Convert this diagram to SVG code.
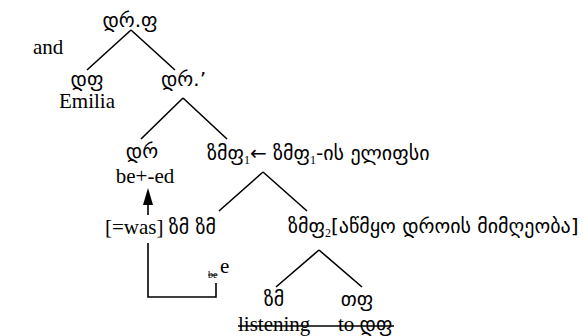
<svg xmlns="http://www.w3.org/2000/svg" width="583" height="336" viewBox="0 0 583 336">
<style>
.lat{font-family:"Liberation Serif","DejaVu Serif",serif;font-size:21px;fill:#000}
.geo{font-family:"DejaVu Sans","Noto Sans",sans-serif;font-size:20px;fill:#000}
.sub{font-family:"Liberation Serif",serif;font-size:12px}
.small{font-size:10px}
.e{stroke:#000;stroke-width:1.6;fill:none}
.mid{text-anchor:middle}
</style>
<rect width="583" height="336" fill="#fff"/>
<text class="lat" x="33" y="54">and</text>
<g id="n-root"><text class="geo mid" x="130" y="27">დრ.ფ</text></g>
<g id="n-df"><text class="geo mid" x="87" y="86">დფ</text><text class="lat mid" x="87" y="108">Emilia</text></g>
<g id="n-dr1"><text class="geo" x="161" y="86">დრ.’</text></g>
<g id="n-dr"><text class="geo mid" x="142" y="158">დრ</text><text class="lat mid" x="145" y="183">be+-ed</text></g>
<g id="n-zmf1"><text class="geo" x="207" y="160">ზმფ<tspan class="sub" dy="4">1</tspan><tspan dy="-4">← ზმფ</tspan><tspan class="sub" dy="4">1</tspan><tspan dy="-4">-ის ელიფსი</tspan></text></g>
<g id="n-zm"><text x="105" y="234"><tspan class="lat">[=was] </tspan><tspan class="geo">ზმ ზმ</tspan></text></g>
<g id="n-zmf2"><text class="geo" x="288" y="233">ზმფ<tspan class="sub" dy="4">2</tspan><tspan dy="-4">[აწმყო დროის მიმღეობა]</tspan></text></g>
<g id="n-trace"><text class="lat small" x="208" y="278" text-decoration="line-through">be</text><text class="lat" x="220" y="273">e</text></g>
<g id="n-zm2"><text class="geo mid" x="274" y="306">ზმ</text></g>
<g id="n-tf"><text class="geo mid" x="357" y="306">თფ</text></g>
<g id="n-listen"><text class="lat" x="238" y="331">listening</text><text x="338" y="331"><tspan class="lat">to </tspan><tspan class="geo">დფ</tspan></text></g>
<g id="connectors">
<path class="e" d="M131 30 L87 70 M131 30 L175 70"/>
<path class="e" d="M183 98 L141 139 M183 98 L227 139"/>
<path class="e" d="M263 172 L219 211 M263 172 L307 211"/>
<path class="e" d="M319 250 L276 287 M319 250 L362 287"/>
<path class="e" d="M148 215 L148 202"/>
<path d="M148 188 L153 205 L143 205 Z" fill="#000"/>
<path class="e" d="M148 243 L148 297 L216 297 L216 283"/>
<path class="e" d="M238 326 L394 326"/>
</g>
</svg>
